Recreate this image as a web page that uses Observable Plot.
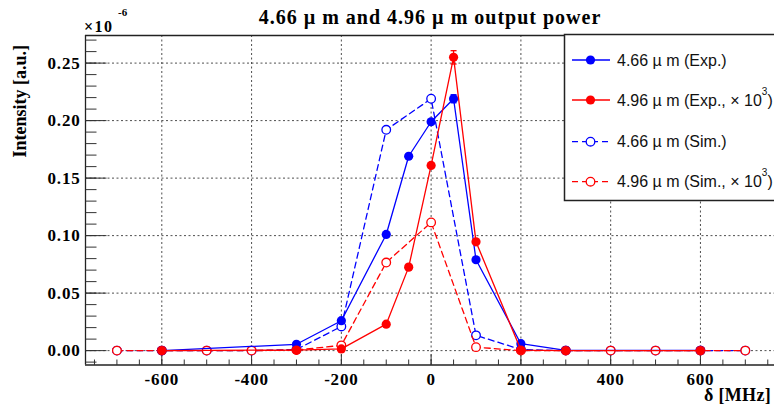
<!DOCTYPE html>
<html><head><meta charset="utf-8">
<script src="https://cdn.jsdelivr.net/npm/d3@7"></script>
<script src="https://cdn.jsdelivr.net/npm/@observablehq/plot@0.6"></script>
<style>
body{margin:0;background:#fff;}
#chart{position:relative;width:774px;height:406px;overflow:hidden;background:#fff;}
#chart svg text{font-family:"Liberation Serif","Times New Roman",serif;}
#chart g[aria-label="y-axis tick label"],
#chart g[aria-label="x-axis tick label"]{font-family:"Liberation Serif","Times New Roman",serif;font-size:17px;font-weight:bold;}
#chart g[aria-label="y-axis tick label"] text,
#chart g[aria-label="x-axis tick label"] text{font-family:"Liberation Serif","Times New Roman",serif;font-size:17px;font-weight:bold;letter-spacing:0.8px;}
#chart svg g.lg text{font-family:"Liberation Sans",Arial,sans-serif;font-weight:normal;}
#chart svg text.mult{font-size:16px;font-weight:bold;letter-spacing:1.5px;}
#chart svg text.exp{font-size:11px;font-weight:bold;}
</style></head><body><div id="chart"></div>
<script>
// ---- data (values in units of 1e-6) ----
const xExp = [-600, -300, -200, -100, -50, 0, 50, 100, 200, 300, 600];
const blueExp = [0.0, 0.0055, 0.026, 0.101, 0.169, 0.199, 0.219, 0.079, 0.006, 0.0003, 0.0002];
const blueErr = [0, 0.0005, 0.0015, 0.002, 0.002, 0.002, 0.0035, 0.002, 0.0005, 0, 0];
const redExp = [0.0, 0.0005, 0.0015, 0.023, 0.0726, 0.161, 0.255, 0.0946, 0.0005, 0.0, 0.0];
const redErr = [0, 0, 0.0005, 0.001, 0.0015, 0.002, 0.0058, 0.003, 0, 0, 0];
const xSim = [-700, -600, -500, -400, -300, -200, -100, 0, 100, 200, 300, 400, 500, 600, 700];
const blueSim = [0, 0, 0, 0, 0.001, 0.021, 0.192, 0.219, 0.0133, 0.001, 0, 0, 0, 0, 0];
const redSim = [0, 0, 0, 0, 0.0005, 0.0046, 0.0766, 0.1115, 0.003, 0, 0, 0, 0, 0, 0];
const xMajor = [-600, -400, -200, 0, 200, 400, 600];
const xMinor = d3.range(-750, 751, 50);
const yMajor = [0, 0.05, 0.10, 0.15, 0.20, 0.25];
const yMinor = d3.range(-1, 28).map(d => d / 100);
const legendLabels = ["4.66 µ m (Exp.)", "4.96 µ m (Exp., × 10", "4.66 µ m (Sim.)", "4.96 µ m (Sim., × 10"];
const titleText = "4.66 µ m and 4.96 µ m output power";
const yLabel = "Intensity [a.u.]";
const xLabel = "δ [MHz]";

const BLUE = "#0000ff", RED = "#ff0000";
const serif = "Liberation Serif";
const mk = (xs, ys, es) => xs.map((x, i) => ({x, y: ys[i], e: es ? es[i] : 0}));
const bE = mk(xExp, blueExp, blueErr), rE = mk(xExp, redExp, redErr);
const bS = mk(xSim, blueSim), rS = mk(xSim, redSim);

const tickSym = (dx, dy) => ({draw(ctx) { ctx.moveTo(0, 0); ctx.lineTo(dx, dy); }});
const capSym = {draw(ctx) { ctx.moveTo(-3, 0); ctx.lineTo(3, 0); }};

function errMarks(data, color) {
  const d = data.filter(p => p.e > 0);
  const big = data.filter(p => p.e > 0.003);
  return [
    Plot.ruleX(d, {x: "x", y1: p => p.y - p.e, y2: p => p.y + p.e, stroke: color, strokeWidth: 1.3}),
    Plot.dot(big, {x: "x", y: p => p.y + p.e, symbol: capSym, r: 3, stroke: color, fill: "none", strokeWidth: 1.3}),
    Plot.dot(big, {x: "x", y: p => p.y - p.e, symbol: capSym, r: 3, stroke: color, fill: "none", strokeWidth: 1.3})
  ];
}

const gridStyle = {stroke: "#222", strokeOpacity: 0.8, strokeDasharray: "2,2.5", strokeWidth: 1};

const plot = Plot.plot({
  width: 774, height: 406,
  marginLeft: 85, marginRight: 0, marginTop: 35, marginBottom: 41.5,
  style: {fontFamily: serif, fontSize: "17px", background: "white", overflow: "visible", color: "black"},
  x: {domain: [-770, 765]},
  y: {domain: [-0.0125, 0.274]},
  marks: [
    Plot.gridX(xMajor, gridStyle),
    Plot.gridY(yMajor, gridStyle),
    // frame lines
    Plot.ruleX([-770], {stroke: "#222", strokeWidth: 1.3}),
    Plot.ruleY([-0.0125], {stroke: "#222", strokeWidth: 1.3}),
    Plot.ruleY([0.274], {stroke: "#222", strokeWidth: 1.3}),
    // inward ticks
    Plot.dot(yMajor, {y: d => d, frameAnchor: "left", symbol: tickSym(21, 0), r: 3, stroke: "#333", fill: "none", strokeWidth: 1}),
    Plot.dot(yMinor, {y: d => d, frameAnchor: "left", symbol: tickSym(11, 0), r: 3, stroke: "#333", fill: "none", strokeWidth: 1}),
    Plot.dot(xMajor, {x: d => d, frameAnchor: "bottom", symbol: tickSym(0, -11), r: 3, stroke: "#333", fill: "none", strokeWidth: 1}),
    Plot.dot(xMinor, {x: d => d, frameAnchor: "bottom", symbol: tickSym(0, -5.5), r: 3, stroke: "#333", fill: "none", strokeWidth: 1}),
    Plot.axisY({ticks: yMajor, tickSize: 0, tickPadding: 5, tickFormat: d => d.toFixed(2), fontFamily: serif, fontWeight: "bold", fontSize: 17, label: null}),
    Plot.axisX({ticks: xMajor, tickSize: 0, tickPadding: 8, tickFormat: d => String(d), fontFamily: serif, fontWeight: "bold", fontSize: 17, label: null}),
    // simulations
    Plot.line(bS, {x: "x", y: "y", stroke: BLUE, strokeWidth: 1.3, strokeDasharray: "6,4"}),
    Plot.dot(bS, {x: "x", y: "y", r: 4.3, stroke: BLUE, fill: "white", strokeWidth: 1.3}),
    Plot.line(rS, {x: "x", y: "y", stroke: RED, strokeWidth: 1.3, strokeDasharray: "6,4"}),
    Plot.dot(rS, {x: "x", y: "y", r: 4.3, stroke: RED, fill: "white", strokeWidth: 1.3}),
    // experiments
    Plot.line(bE, {x: "x", y: "y", stroke: BLUE, strokeWidth: 1.3}),
    ...errMarks(bE, BLUE),
    Plot.dot(bE, {x: "x", y: "y", r: 4.6, fill: BLUE}),
    Plot.line(rE, {x: "x", y: "y", stroke: RED, strokeWidth: 1.3}),
    ...errMarks(rE, RED),
    Plot.dot(rE, {x: "x", y: "y", r: 4.6, fill: RED})
  ]
});
document.getElementById("chart").appendChild(plot);

// ---- texts & legend ----
const svg = d3.select(plot);
svg.append("text").attr("x", 430).attr("y", 23.5).attr("text-anchor", "middle")
  .attr("font-weight", "bold").attr("font-size", 20)
  .style("letter-spacing", "1px").text(titleText);
svg.append("text").attr("class", "mult").attr("x", 84).attr("y", 32).attr("text-anchor", "start").text("×10");
svg.append("text").attr("class", "exp").attr("x", 118).attr("y", 16).attr("text-anchor", "start").text("-6");
svg.append("text").attr("transform", "translate(26,45) rotate(-90)").attr("text-anchor", "end")
  .attr("font-weight", "bold").attr("font-size", 18).text(yLabel);
svg.append("text").attr("x", 771).attr("y", 401).attr("text-anchor", "end")
  .attr("font-weight", "bold").attr("font-size", 18)
  .style("letter-spacing", "0.3px").text(xLabel);

const lg = svg.append("g").attr("class", "lg");
lg.append("rect").attr("x", 564.5).attr("y", 34.5).attr("width", 215).attr("height", 166)
  .attr("fill", "white").attr("stroke", "#222").attr("stroke-width", 1.5);
const entries = [
  {c: BLUE, dash: null, filled: true, y: 60, sup: false},
  {c: RED, dash: null, filled: true, y: 100, sup: true},
  {c: BLUE, dash: "6,4", filled: false, y: 141.7, sup: false},
  {c: RED, dash: "6,4", filled: false, y: 181.7, sup: true}
];
entries.forEach((e, i) => {
  lg.append("line").attr("x1", 572).attr("x2", 610).attr("y1", e.y).attr("y2", e.y)
    .attr("stroke", e.c).attr("stroke-width", 1.3).attr("stroke-dasharray", e.dash);
  lg.append("circle").attr("cx", 590.5).attr("cy", e.y).attr("r", e.filled ? 4.6 : 4.3)
    .attr("fill", e.filled ? e.c : "white").attr("stroke", e.filled ? "none" : e.c).attr("stroke-width", 1.3);
  const t = lg.append("text").attr("x", 617).attr("y", e.y + 5.5).attr("text-anchor", "start")
    .attr("font-size", 16).attr("fill", "#111");
  t.append("tspan").text(legendLabels[i]);
  if (e.sup) {
    t.append("tspan").attr("dy", -11).attr("font-size", 10).text("3");
    t.append("tspan").attr("dy", 11).text(")");
  }
});
</script></body></html>
